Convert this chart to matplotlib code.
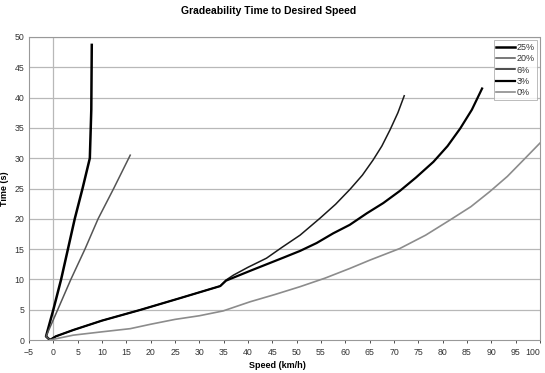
import matplotlib
matplotlib.use("Agg")
import matplotlib.pyplot as plt

plt.rcParams['font.family'] = ['Liberation Sans', 'DejaVu Sans']

# Data (speed km/h, time s)
g25_speed = [-0.7, -1.5, 0.0, 1.6, 3.0, 4.4, 6.0, 7.5, 7.8, 7.9]
g25_time  = [0.0, 0.6, 5.0, 10.0, 15.0, 20.0, 25.0, 30.0, 38.0, 48.7]

g20_speed = [-0.7, -1.5, 0.9, 3.6, 6.5, 9.2, 12.4, 15.8]
g20_time  = [0.0, 0.6, 5.0, 10.0, 15.0, 20.0, 25.0, 30.5]

g6_speed = [-0.7, 0.5, 4.1, 10.0, 17.8, 26.0, 34.3, 35.5, 37.0, 40.0, 43.8, 47.0,
            50.7, 54.8, 58.0, 61.0, 63.5, 65.7, 67.5, 69.2, 70.8, 72.1]
g6_time  = [0.0, 0.6, 1.65, 3.2, 4.95, 6.9, 8.9, 9.9, 10.7, 12.0, 13.5, 15.3,
            17.3, 20.1, 22.4, 24.9, 27.2, 29.7, 32.0, 34.7, 37.5, 40.3]

g3_speed = [-0.7, 0.5, 4.1, 10.0, 17.8, 26.0, 34.3, 35.5, 40.4, 47.3, 50.7, 54.1,
            57.5, 60.9, 64.4, 67.8, 71.2, 74.5, 78.1, 81.0, 83.6, 86.0, 88.1]
g3_time  = [0.0, 0.6, 1.65, 3.2, 4.95, 6.9, 8.9, 9.8, 11.4, 13.6, 14.7, 16.0,
            17.6, 19.0, 20.9, 22.6, 24.6, 26.8, 29.4, 32.0, 34.9, 38.0, 41.5]

g0_speed = [-0.7, 4.1, 10.0, 15.8, 20.0, 25.0, 30.0, 34.9, 40.4, 45.5, 50.7, 55.8,
            60.9, 65.1, 71.2, 76.5, 81.5, 85.8, 89.7, 93.3, 96.6, 100.0]
g0_time  = [0.0, 0.8, 1.35, 1.87, 2.6, 3.4, 4.0, 4.8, 6.3, 7.5, 8.8, 10.2,
            11.8, 13.2, 15.1, 17.3, 19.8, 22.0, 24.5, 27.0, 29.7, 32.5]

labels = ['25%', '20%', '6%', '3%', '0%']

x_ticks = list(range(-5, 101, 5))
y_ticks = list(range(0, 51, 5))

fig = plt.figure(figsize=(5.45, 3.73), dpi=100)
ax = fig.add_axes([29/545, 1-340/373, (540-29)/545, (340-37)/373])

for y in y_ticks[1:]:
    ax.axhline(y, color='#b8b8b8', lw=0.9, zorder=0)
ax.axvline(0, color='#b8b8b8', lw=0.9, zorder=0)

ax.plot(g25_speed, g25_time, color='#000000', lw=1.8, label=labels[0])
ax.plot(g20_speed, g20_time, color='#555555', lw=1.1, label=labels[1])
ax.plot(g6_speed, g6_time, color='#1a1a1a', lw=1.1, label=labels[2])
ax.plot(g3_speed, g3_time, color='#000000', lw=1.6, label=labels[3])
ax.plot(g0_speed, g0_time, color='#8c8c8c', lw=1.2, label=labels[4])

ax.set_xlim(-5, 100)
ax.set_ylim(0, 50)
ax.set_xticks(x_ticks)
ax.set_yticks(y_ticks)
ax.tick_params(labelsize=6.3, colors='#333333', length=2.5, width=0.6, direction='out', pad=3)
ax.tick_params(axis='y', length=0, pad=3.5)
ax.get_xticklabels()[-1].set_horizontalalignment('right')
for s in ax.spines.values():
    s.set_color('#999999')
    s.set_linewidth(0.8)
    s.set_linestyle((0, (1, 1)))

ax.set_xlabel('Speed (km/h)', fontsize=6.5, fontweight='bold')
ax.xaxis.set_label_coords((277-29)/511, -0.068)
ax.set_ylabel('Time (s)', fontsize=6.5, fontweight='bold')
ax.yaxis.set_label_coords((9-29)/511, 0.5)
fig.text(269/545, 1-11/373, 'Gradeability Time to Desired Speed', ha='center', va='center',
         fontsize=7.5, fontweight='bold')

leg = ax.legend(loc='upper right', fontsize=6.5, frameon=True, fancybox=False,
                handlelength=2.0, handletextpad=0.2, borderpad=0.3, labelspacing=0.25,
                bbox_to_anchor=(0.998, 0.995), borderaxespad=0.2)
leg.get_frame().set_edgecolor('#aaaaaa')
leg.get_frame().set_linewidth(0.7)
for t in leg.get_texts():
    t.set_color('#333333')

fig.savefig('out.png', dpi=100)
